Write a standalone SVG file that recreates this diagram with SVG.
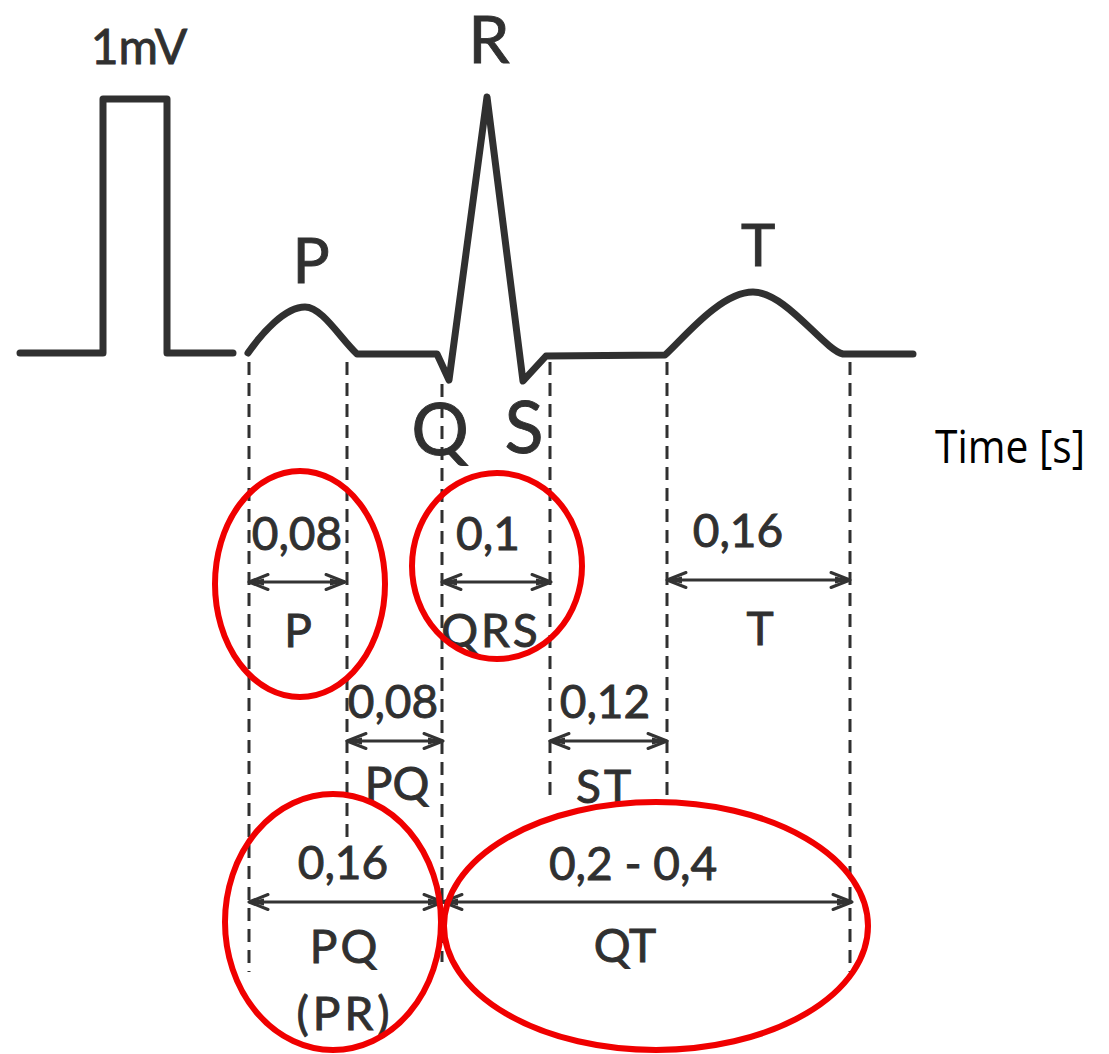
<svg xmlns="http://www.w3.org/2000/svg" width="1109" height="1054" viewBox="0 0 1109 1054">
<defs>
<style>
.trace{fill:none;stroke:#303030;stroke-width:7;stroke-linejoin:round;stroke-linecap:round}
.dash{stroke:#303030;stroke-width:3;stroke-dasharray:13 8;fill:none}
.arr{stroke:#333;stroke-width:3.2;fill:none;marker-start:url(#ah);marker-end:url(#ah)}
.ring{fill:none;stroke:#f00000;stroke-width:6}
.lbl{font-family:Lato,"Open Sans",sans-serif;fill:#303030;stroke:#303030;stroke-width:0.9;text-anchor:middle}
.s{font-size:46px}
.time{font-family:"Open Sans","Noto Sans",sans-serif;font-size:45px;fill:#000}
</style>
<marker id="ah" viewBox="-22 -11 24 22" refX="0" refY="0" markerWidth="24" markerHeight="22" markerUnits="userSpaceOnUse" orient="auto-start-reverse">
<path d="M0,0 L-19,-7.5 M0,0 L-19,7.5" stroke="#333" stroke-width="3" fill="none" stroke-linecap="round"/>
<path d="M1,0 L-15,-3.5 L-15,3.5 Z" fill="#333"/>
</marker>
</defs>
<g id="trace">
<path class="trace" d="M20,353 L103,353 L103,99 L167,99 L167,353 L233,353"/>
<path class="trace" d="M248,353 C262,333 285,307 305,307 C322,307 340,338 357,354 L437,354 L449,380 L487,97 L523,381 L546,356 L665,355 C682,340 720,292 753,292 C786,292 824,350 843,354 L913,354"/>
</g>
<g id="dashes">
<line class="dash" x1="249" y1="362" x2="249" y2="972"/>
<line class="dash" x1="347" y1="362" x2="347" y2="842"/>
<line class="dash" x1="442" y1="384" x2="442" y2="962"/>
<line class="dash" x1="550" y1="362" x2="550" y2="803"/>
<line class="dash" x1="667" y1="362" x2="667" y2="800"/>
<line class="dash" x1="850" y1="362" x2="850" y2="972"/>
</g>
<g id="connectors">
<line class="arr" x1="249" y1="582" x2="345" y2="582"/>
<line class="arr" x1="442" y1="582" x2="551" y2="582"/>
<line class="arr" x1="667" y1="580" x2="850" y2="580"/>
<line class="arr" x1="347" y1="741" x2="443" y2="741"/>
<line class="arr" x1="550" y1="741" x2="667" y2="741"/>
<line class="arr" x1="249" y1="902" x2="443" y2="902"/>
<line class="arr" x1="443" y1="902" x2="852" y2="902"/>
</g>
<g id="wave-labels">
<text class="lbl" x="139" y="64" font-size="48">1mV</text>
<text class="lbl" x="489" y="63" font-size="66">R</text>
<text class="lbl" x="311" y="283" font-size="62">P</text>
<text class="lbl" x="758" y="266" font-size="58">T</text>
<text class="lbl" x="440" y="455" font-size="72">Q</text>
<text class="lbl" x="524" y="453" font-size="72">S</text>
<text class="time" x="935" y="463" textLength="150" lengthAdjust="spacingAndGlyphs">Time [s]</text>
</g>
<g id="node-P">
<text class="lbl s" x="297" y="550">0,08</text>
<text class="lbl s" x="298" y="647">P</text>
</g>
<g id="node-QRS">
<text class="lbl s" x="488" y="550">0,1</text>
<text class="lbl s" x="491" y="647" letter-spacing="3">QRS</text>
</g>
<g id="node-T">
<text class="lbl s" x="738" y="547">0,16</text>
<text class="lbl s" x="760" y="645">T</text>
</g>
<g id="node-PQ">
<text class="lbl s" x="393" y="718">0,08</text>
<text class="lbl s" x="397" y="800">PQ</text>
</g>
<g id="node-ST">
<text class="lbl s" x="605" y="718">0,12</text>
<text class="lbl s" x="605" y="803" letter-spacing="3">ST</text>
</g>
<g id="node-PR">
<text class="lbl s" x="343" y="879">0,16</text>
<text class="lbl s" x="345" y="963" letter-spacing="3">PQ</text>
<text class="lbl s" x="345" y="1030" letter-spacing="4">(PR)</text>
</g>
<g id="node-QT">
<text class="lbl s" x="633" y="880">0,2 - 0,4</text>
<text class="lbl s" x="625" y="962">QT</text>
</g>
<g id="highlights">
<ellipse class="ring" cx="300" cy="584" rx="85" ry="113"/>
<ellipse class="ring" cx="497" cy="566" rx="85" ry="93"/>
<ellipse class="ring" cx="333" cy="922" rx="108" ry="128"/>
<ellipse class="ring" cx="656" cy="926" rx="212" ry="124"/>
</g>
</svg>
